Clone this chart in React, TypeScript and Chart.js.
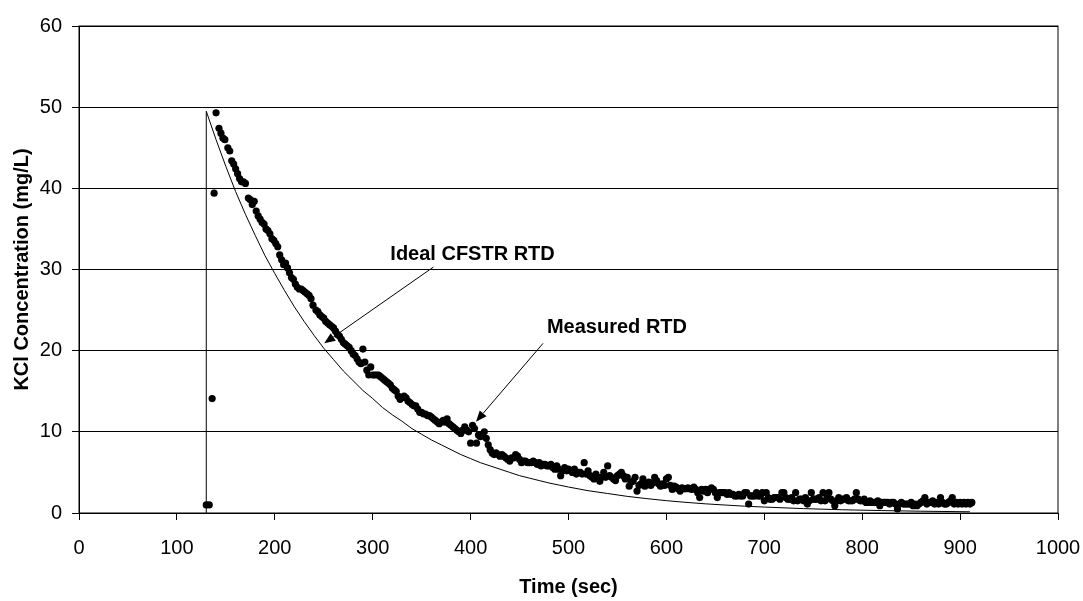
import { useEffect, useRef } from "react";
import { Chart, registerables } from "chart.js";

Chart.register(...registerables);

const FONT = '"Liberation Sans", Arial, Helvetica, sans-serif';

const xTitle = "Time (sec)";
const yTitle = "KCl Concentration (mg/L)";

// Measured RTD (scatter)
const measuredTime = [
  130, 133, 136, 138, 140, 143, 145, 147, 149, 152,
  154, 156, 158, 160, 162, 164, 166, 168, 170, 173,
  175, 177, 179, 181, 183, 185, 187, 189, 191, 193,
  195, 197, 199, 201, 203, 205, 207, 209, 211, 213,
  215, 217, 219, 221, 223, 225, 227, 229, 231, 233,
  235, 237, 239, 242,
  244, 246, 248, 250, 252, 254, 256, 258, 260, 262,
  264, 266, 268, 270, 272, 274, 276, 278, 280, 282,
  284, 286, 288, 290, 292, 294, 296, 298, 300, 302,
  304, 306, 308, 310, 312, 314, 316, 318, 320, 322,
  324, 326, 328, 330, 332, 334, 336, 338, 340, 342,
  344, 346, 348, 350, 352, 354, 356, 358, 360, 362,
  364, 366, 368, 370, 372, 374, 376, 378, 380, 382,
  384, 386, 388, 390, 392, 394, 396, 398, 400, 402,
  404, 406, 408, 410, 412, 414, 416, 418, 420, 422,
  424, 426, 428, 430, 432, 434, 436, 438, 440, 442,
  444, 446, 448, 450, 452, 454, 456, 458, 460, 462,
  464, 466, 468, 470, 472, 474, 476, 478, 480, 482,
  484, 486, 488, 490, 492, 494, 496, 498, 500, 502,
  504, 506, 508, 510, 512, 514, 516, 518, 520, 522,
  524, 526, 528, 530, 532, 534, 536, 538, 540, 542,
  544, 546, 548, 550, 552, 554, 556, 558, 560, 562,
  564, 566, 568, 570, 572, 574, 576, 578, 580, 582,
  584, 586, 588, 590, 592, 594, 596, 598, 600, 602,
  604, 606, 608, 610, 612, 614, 616, 618, 620, 622,
  624, 626, 628, 630, 632, 634, 636, 638, 640, 642,
  644, 646, 648, 650, 652, 654, 656, 658, 660, 662,
  664, 666, 668, 670, 672, 674, 676, 678, 680, 682,
  684, 686, 688, 690, 692, 694, 696, 698, 700, 702,
  704, 706, 708, 710, 712, 714, 716, 718, 720, 722,
  724, 726, 728, 730, 732, 734, 736, 738, 740, 742,
  744, 746, 748, 750, 752, 754, 756, 758, 760, 762,
  764, 766, 768, 770, 772, 774, 776, 778, 780, 782,
  784, 786, 788, 790, 792, 794, 796, 798, 800, 802,
  804, 806, 808, 810, 812, 814, 816, 818, 820, 822,
  824, 826, 828, 830, 832, 834, 836, 838, 840, 842,
  844, 846, 848, 850, 852, 854, 856, 858, 860, 862,
  864, 866, 868, 870, 872, 874, 876, 878, 880, 882,
  884, 886, 888, 890, 892, 894, 896, 898, 900, 902,
  904, 906, 908, 910, 912,
];

const measuredConc = [
  1.0, 1.0, 14.1, 39.4, 49.3, 47.4, 46.8, 46.2, 46.0, 45.0,
  44.6, 43.4, 43.0, 42.4, 41.8, 41.2, 40.8, 40.8, 40.6, 38.8,
  38.6, 38.0, 38.4, 37.2, 36.6, 36.2, 35.8, 35.6, 35.0, 34.8,
  34.4, 33.8, 33.6, 33.2, 32.8, 31.8, 31.2, 30.6, 30.8, 30.2,
  29.6, 29.0, 28.8, 28.2, 27.8, 27.6, 27.6, 27.4, 27.2, 27.0,
  26.8, 26.4, 25.6, 25.0,
  24.8, 24.4, 24.2, 24.0, 23.6, 23.4, 23.2, 23.0, 22.8, 22.4,
  22.0, 21.8, 21.4, 21.0, 20.8, 20.6, 20.4, 20.0, 19.6, 19.4,
  19.0, 18.6, 18.4, 20.2, 18.6, 17.6, 17.0, 18.0, 17.0, 17.0,
  17.0, 17.0, 16.8, 16.6, 16.4, 16.2, 16.0, 15.8, 15.4, 15.2,
  15.0, 14.4, 14.0, 14.2, 14.4, 14.2, 13.8, 13.6, 13.4, 13.2,
  13.2, 12.8, 12.4, 12.4, 12.2, 12.2, 12.0, 12.0, 11.8, 11.6,
  11.4, 11.2, 11.0, 11.2, 11.4, 11.2, 11.6, 11.0, 10.8, 10.6,
  10.4, 10.2, 10.0, 9.8, 10.2, 10.6, 10.2, 10.0, 8.6, 10.8,
  10.4, 8.6, 9.6, 9.4, 9.6, 10.0, 9.2, 8.4, 7.8, 7.4,
  7.2, 7.4, 7.2, 7.0, 7.2, 7.0, 6.8, 6.6, 6.4, 6.8,
  6.8, 7.2, 7.0, 6.6, 6.2, 6.4, 6.4, 6.2, 6.2, 6.2,
  6.4, 6.2, 6.0, 6.2, 5.8, 6.0, 6.0, 5.8, 5.8, 6.0,
  5.6, 5.4, 5.8, 5.4, 4.6, 5.2, 5.6, 5.2, 5.4, 5.2,
  5.0, 5.4, 4.8, 5.0, 5.0, 4.8, 6.2, 4.8, 5.2, 4.6,
  4.4, 4.2, 4.8, 4.4, 3.9, 4.4, 5.0, 4.4, 5.8, 4.6,
  4.4, 4.2, 4.0, 4.6, 4.8, 5.0, 4.6, 4.2, 4.4, 3.3,
  3.8, 3.9, 4.4, 2.7, 3.4, 3.6, 4.2, 3.3, 3.6, 3.8,
  3.4, 3.7, 4.4, 4.0, 3.6, 3.3, 3.6, 3.4, 4.2, 4.4,
  3.4, 2.9, 3.3, 3.2, 3.0, 2.7, 3.1, 3.0, 3.0, 3.1,
  3.0, 2.9, 3.2, 2.9, 2.5, 1.9, 2.9, 2.7, 2.9, 2.5,
  2.9, 3.1, 2.9, 2.5, 1.9, 2.5, 2.5, 2.5, 2.5, 2.3,
  2.5, 2.3, 2.3, 2.1, 2.1, 2.3, 2.1, 2.1, 2.5, 2.5,
  1.1, 2.1, 2.1, 2.1, 2.5, 2.1, 2.1, 2.5, 1.5, 2.5,
  1.9, 1.7, 1.7, 1.9, 1.9, 1.9, 1.7, 2.5, 2.5, 1.9,
  1.7, 1.7, 1.9, 1.5, 2.5, 1.5, 1.7, 1.7, 1.5, 1.9,
  1.1, 1.5, 2.5, 1.7, 1.7, 1.7, 1.9, 1.5, 2.5, 1.5,
  2.1, 2.5, 1.7, 1.5, 0.9, 1.5, 1.9, 1.5, 1.7, 1.7,
  1.9, 1.5, 1.5, 1.5, 1.7, 2.5, 1.7, 1.5, 1.5, 1.7,
  1.3, 1.3, 1.5, 1.3, 1.3, 1.3, 1.5, 0.9, 1.3, 1.3,
  1.3, 1.3, 1.1, 1.3, 1.3, 1.1, 0.5, 1.1, 1.3, 1.1,
  1.1, 1.1, 1.1, 1.3, 0.9, 1.1, 0.9, 1.1, 1.3, 1.5,
  1.9, 1.1, 1.3, 1.3, 1.5, 1.1, 1.3, 1.1, 1.9, 1.3,
  1.1, 1.1, 1.3, 1.5, 1.9, 1.1, 1.3, 1.1, 1.3, 1.1,
  1.3, 1.1, 1.3, 1.1, 1.3,
];

// Ideal CFSTR RTD (line), including the vertical rise at the pulse
const idealTime = [
  130, 130, 140, 150, 160, 170, 180, 190, 200, 210,
  220, 230, 240, 250, 260, 270, 280, 290, 300, 310,
  320, 330, 340, 350, 360, 370, 380, 390, 400, 410,
  420, 430, 440, 450, 460, 470, 480, 490, 500, 520,
  540, 560, 580, 600, 620, 640, 660, 680, 700, 740,
  780, 820, 860, 910,
];
const idealConc = [
  0, 49.5, 46.0, 42.7, 39.6, 36.8, 34.2, 31.7, 29.5, 27.4,
  25.4, 23.6, 21.9, 20.3, 18.9, 17.5, 16.3, 15.1, 14.1, 13.0,
  12.1, 11.3, 10.4, 9.7, 9.0, 8.4, 7.8, 7.2, 6.7, 6.2,
  5.8, 5.4, 5.0, 4.6, 4.3, 4.0, 3.7, 3.45, 3.2, 2.75,
  2.4, 2.05, 1.77, 1.52, 1.31, 1.13, 0.98, 0.84, 0.73, 0.54,
  0.40, 0.30, 0.22, 0.15,
];

// Annotations (data coordinates)
const annotationText = ["Ideal CFSTR RTD", "Measured RTD"];
const annotationTextAt = [
  [318, 31.8],
  [478, 22.9],
];
const arrowTail = [
  [362, 30.3],
  [474, 20.9],
];
const arrowHead = [
  [250.5, 20.9],
  [405.5, 11.25],
];

const decorPlugin = {
  id: "decor",
  afterDraw(chart: any) {
    const { ctx, chartArea: a, scales } = chart;
    const x = scales.x;
    const y = scales.y;
    ctx.save();
    ctx.strokeStyle = "#000";
    ctx.lineWidth = 1;
    ctx.strokeRect(a.left, a.top, a.right - a.left, a.bottom - a.top);

    ctx.fillStyle = "#000";
    ctx.font = `bold 20px ${FONT}`;
    ctx.textAlign = "center";
    ctx.textBaseline = "middle";
    ctx.fillText(xTitle, (a.left + a.right) / 2, 587);
    ctx.save();
    ctx.translate(22, (a.top + a.bottom) / 2);
    ctx.rotate(-Math.PI / 2);
    ctx.fillText(yTitle, 0, 0);
    ctx.restore();

    ctx.textAlign = "left";
    for (let i = 0; i < annotationText.length; i++) {
      const [tx, ty] = annotationTextAt[i];
      ctx.fillText(annotationText[i], x.getPixelForValue(tx), y.getPixelForValue(ty));
      const x0 = x.getPixelForValue(arrowTail[i][0]);
      const y0 = y.getPixelForValue(arrowTail[i][1]);
      const x1 = x.getPixelForValue(arrowHead[i][0]);
      const y1 = y.getPixelForValue(arrowHead[i][1]);
      const ang = Math.atan2(y1 - y0, x1 - x0);
      const hl = 11;
      const hw = 4.5;
      const bx = x1 - hl * Math.cos(ang);
      const by = y1 - hl * Math.sin(ang);
      ctx.beginPath();
      ctx.moveTo(x0, y0);
      ctx.lineTo(bx, by);
      ctx.stroke();
      ctx.beginPath();
      ctx.moveTo(x1, y1);
      ctx.lineTo(bx + hw * Math.sin(ang), by - hw * Math.cos(ang));
      ctx.lineTo(bx - hw * Math.sin(ang), by + hw * Math.cos(ang));
      ctx.closePath();
      ctx.fill();
    }
    ctx.restore();
  },
};

export default function App() {
  const ref = useRef<HTMLCanvasElement | null>(null);

  useEffect(() => {
    if (!ref.current) return;
    const n = Math.min(measuredTime.length, measuredConc.length);
    const measured = [];
    for (let i = 0; i < n; i++) measured.push({ x: measuredTime[i], y: measuredConc[i] });
    const ideal = idealTime.map((t, i) => ({ x: t, y: idealConc[i] }));

    const chart = new Chart(ref.current, {
      type: "scatter",
      data: {
        datasets: [
          {
            label: "Measured RTD",
            data: measured,
            backgroundColor: "#000",
            borderWidth: 0,
            pointRadius: 3.6,
            pointHoverRadius: 3.6,
            showLine: false,
          },
          {
            label: "Ideal CFSTR RTD",
            data: ideal,
            showLine: true,
            borderColor: "#000",
            borderWidth: 1,
            pointRadius: 0,
            tension: 0,
            fill: false,
          },
        ],
      },
      plugins: [decorPlugin],
      options: {
        animation: false,
        responsive: false,
        devicePixelRatio: 1,
        layout: { padding: { top: 26, right: 0, left: 0, bottom: 0 } },
        plugins: { legend: { display: false }, tooltip: { enabled: false } },
        scales: {
          x: {
            type: "linear",
            min: 0,
            max: 1000,
            afterFit: (s: any) => {
              s.height = 88;
              s.paddingLeft = 0;
              s.paddingRight = 25;
            },
            ticks: {
              stepSize: 100,
              autoSkip: false,
              maxRotation: 0,
              color: "#000",
              padding: 16,
              font: { family: FONT, size: 20 },
              callback: (v: any) => String(v),
            },
            grid: {
              drawOnChartArea: false,
              drawTicks: true,
              tickLength: 7,
              color: "#000",
            },
            border: { display: true, color: "#000", width: 1 },
          },
          y: {
            type: "linear",
            min: 0,
            max: 60,
            afterFit: (s: any) => {
              s.width = 79;
            },
            ticks: {
              stepSize: 10,
              color: "#000",
              padding: 10,
              font: { family: FONT, size: 20 },
            },
            grid: {
              drawOnChartArea: true,
              drawTicks: true,
              tickLength: 7,
              color: "#000",
              lineWidth: 1,
            },
            border: { display: true, color: "#000", width: 1 },
          },
        },
      },
    });
    return () => chart.destroy();
  }, []);

  return (
    <div style={{ position: "fixed", left: 0, top: 0, width: 1083, height: 601, background: "#fff" }}>
      <canvas ref={ref} width={1083} height={601} style={{ display: "block" }} />
    </div>
  );
}
